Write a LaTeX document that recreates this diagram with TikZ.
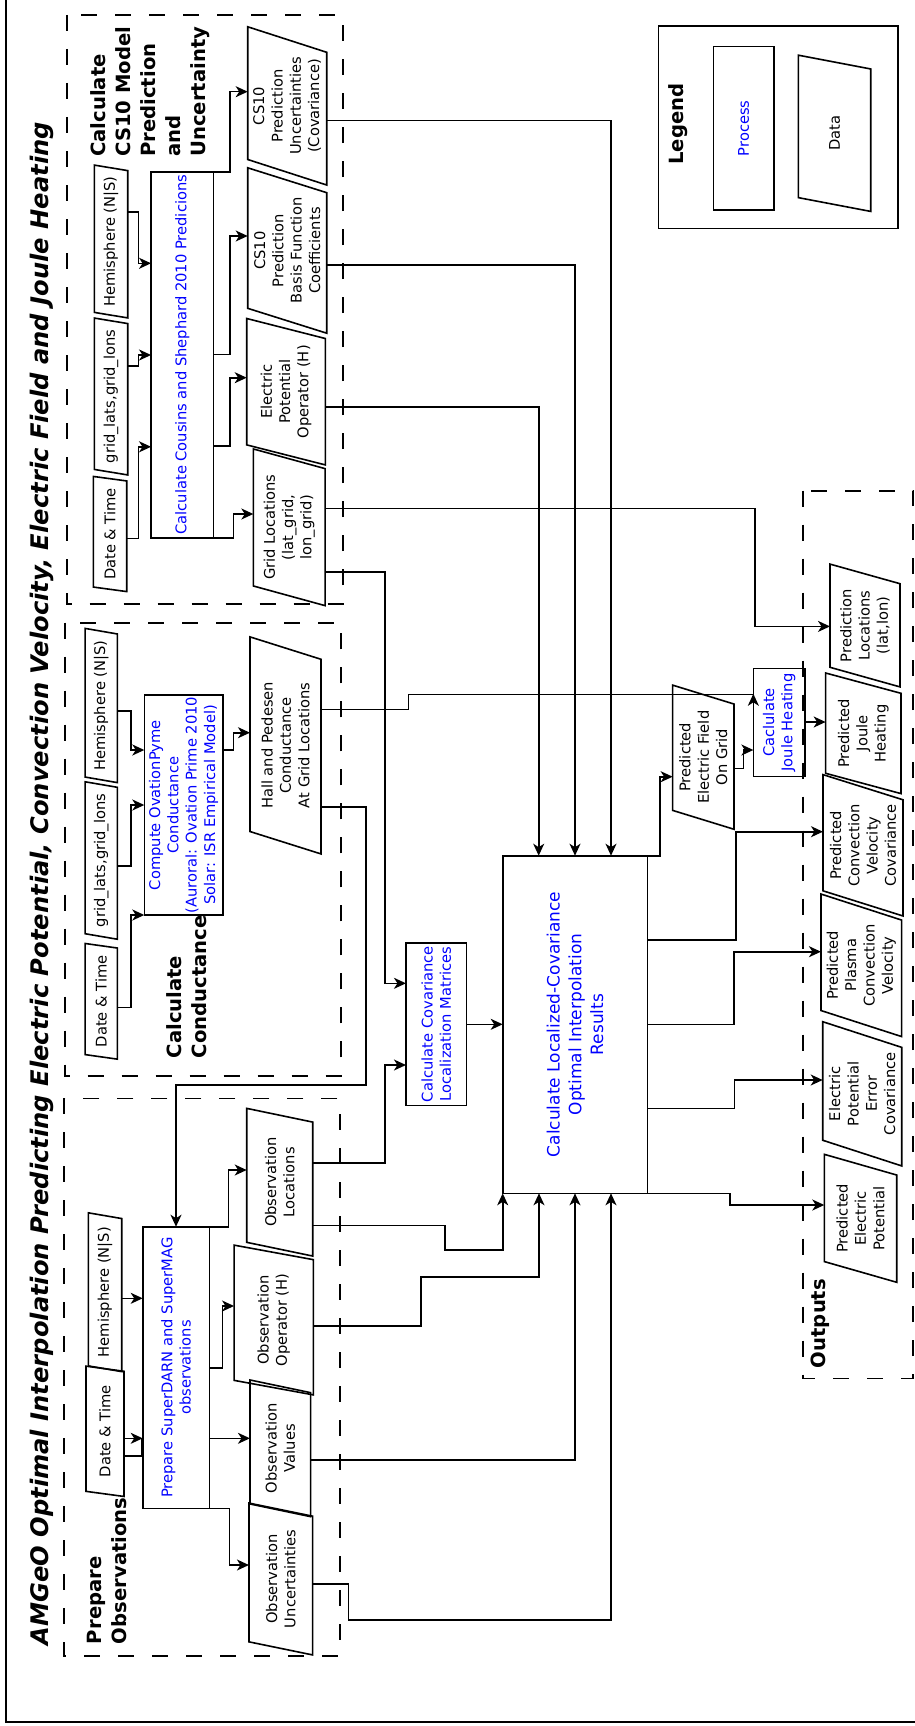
\documentclass[tikz,border=0pt]{standalone}
\usepackage{fontspec}
\setmainfont{DejaVu Sans}[ItalicFont={DejaVu Sans Oblique},BoldFont={DejaVu Sans Bold},BoldItalicFont={DejaVu Sans Bold Oblique}]
\usetikzlibrary{arrows.meta,shapes.geometric}
\begin{document}
\begin{tikzpicture}[x=1pt, y=-1pt,
  every node/.style={inner sep=0pt, outer sep=0pt},
  lbl/.style={rotate=90, align=center, font=\fontsize{14.7}{18.3}\selectfont},
  proc/.style={lbl, draw, line width=1.6pt, rectangle, text=blue},
  data/.style={lbl, draw, line width=1.6pt, trapezium, trapezium left angle=71, trapezium right angle=109, trapezium stretches=true},
  group/.style={draw, line width=1.6pt, dash pattern=on 16pt off 18pt},
  grouptitle/.style={rotate=90, align=left, anchor=west, font=\bfseries\fontsize{19.6}{25}\selectfont},
  link/.style={line width=1.6pt},
  arr/.style={link, -{Stealth[length=12pt, width=11pt, inset=3.5pt]}}]
\useasboundingbox (0,0) rectangle (915,1726);
\clip (0,0) rectangle (915,1726);
% frames
\draw[link] (6,-20) rectangle (935,1722);
\draw[group] (66.7,15) rectangle (342.7,604);
\draw[group] (65,622.7) rectangle (341,1076);
\draw[group] (64,1098.3) rectangle (340,1656);
\draw[group] (802.7,490.7) rectangle (913,1378.3);
% titles
\node[rotate=90, anchor=east, font=\bfseries\itshape\fontsize{24.2}{28}\selectfont] (title) at (41.7,122) {AMGeO Optimal Interpolation Predicting Electric Potential, Convection Velocity, Electric Field and Joule Heating};
\node[grouptitle] (cs10title) at (150,156.7) {Calculate\\CS10 Model\\Prediction\\and\\Uncertainty};
\node[grouptitle] (condtitle) at (186.7,1058.3) {Calculate\\Conductance};
\node[grouptitle] (obstitle) at (106.7,1644) {Prepare\\Observations};
\node[grouptitle] (outtitle) at (820,1368) {Outputs};
% legend
\draw[link] (658.3,26) rectangle (897.7,228.3);
\node[rotate=90, font=\bfseries\fontsize{19.6}{25}\selectfont] (legtitle) at (678.3,124) {Legend};
\node[proc, minimum width=163.3, minimum height=60.7] (legproc) at (743.7,128.3) {Process};
\node[data, minimum width=156.7, minimum height=72.4] (legdata) at (834.5,133.3) {Data};
% CS10 model
\node[data, minimum width=153, minimum height=33.4] (cs10hemi) at (111,241.5) {Hemisphere (N|S)};
\node[data, minimum width=157, minimum height=33.4] (cs10grid) at (111,396.5) {grid\_lats,grid\_lons};
\node[data, minimum width=115.5, minimum height=33.4] (cs10date) at (110,534) {Date \& Time};
\node[proc, minimum width=366, minimum height=62.3] (cs10proc) at (182.2,354.7) {Calculate Cousins and Shephard 2010 Predicions};
\node[data, minimum width=158.3, minimum height=79] (cs10unc) at (287.2,105.9) {CS10\\Prediction\\Uncertainties\\(Covariance)};
\node[data, minimum width=165.6, minimum height=79] (cs10coef) at (287.2,250.5) {CS10\\Prediction\\Basis Function\\Coefficients};
\node[data, minimum width=146.7, minimum height=78.6] (epot) at (286,391.7) {Electric\\Potential\\Operator (H)};
\node[data, minimum width=157, minimum height=71.7] (gridloc) at (289.2,527.3) {Grid Locations\\(lat\_grid,\\lon\_grid)};
% conductance
\node[data, minimum width=154.4, minimum height=32.3] (condhemi) at (101.2,705.5) {Hemisphere (N|S)};
\node[data, minimum width=157.6, minimum height=32.3] (condgrid) at (101.2,860.5) {grid\_lats,grid\_lons};
\node[data, minimum width=116, minimum height=32.3] (conddate) at (101.2,1001.3) {Date \& Time};
\node[proc, minimum width=220, minimum height=78.4] (condproc) at (183.5,805) {Compute OvationPyme\\Conductance\\(Auroral: Ovation Prime 2010\\Solar: ISR Empirical Model)};
\node[data, minimum width=217.3, minimum height=71] (hallped) at (285.5,745.4) {Hall and Pedesen\\Conductance\\At Grid Locations};
% interpolation
\node[proc, minimum width=162.8, minimum height=60.7] (covloc) at (436.3,1024.1) {Calculate Covariance\\Localization Matrices};
\node[proc, minimum width=337.6, minimum height=144.6, font=\fontsize{17}{21.7}\selectfont] (optint) at (575,1024.5) {Calculate Localized-Covariance\\Optimal Interpolation\\Results};
\node[data, minimum width=144.3, minimum height=61.3] (efield) at (703.3,757.2) {Predicted\\Electric Field\\On Grid};
\node[proc, minimum width=107.8, minimum height=51.7] (joule) at (779.2,722.5) {Caclulate\\Joule Heating};
% outputs
\node[data, minimum width=123, minimum height=70] (outloc) at (865,625.5) {Prediction\\Locations\\(lat,lon)};
\node[data, minimum width=120.6, minimum height=75.3] (outjoule) at (863.3,733.3) {Predicted\\Joule\\Heating};
\node[data, minimum width=141.4, minimum height=80] (outvcov) at (863,845.3) {Predicted\\Convection\\Velocity\\Covariance};
\node[data, minimum width=142.7, minimum height=80.7] (outvel) at (861.3,965.3) {Predicted\\Plasma\\Convection\\Velocity};
\node[data, minimum width=144.3, minimum height=79] (outpcov) at (862.2,1093.8) {Electric\\Potential\\Error\\Covariance};
\node[data, minimum width=128, minimum height=72.4] (outpot) at (860.5,1218.3) {Predicted\\Electric\\Potential};
% observations
\node[data, minimum width=159, minimum height=33.4] (obshemi) at (105,1292.2) {Hemisphere (N|S)};
\node[data, minimum width=130.7, minimum height=38] (obsdate) at (105,1431.3) {Date \& Time};
\node[proc, minimum width=281.6, minimum height=66.6] (obsproc) at (176,1367.5) {Prepare SuperDARN and SuperMAG\\observations};
\node[data, minimum width=147.7, minimum height=66] (obsloc) at (279.7,1182.2) {Observation\\Locations};
\node[data, minimum width=150, minimum height=79.3] (obsop) at (273.7,1320) {Observation\\Operator (H)};
\node[data, minimum width=136.7, minimum height=60.7] (obsval) at (280.3,1448.3) {Observation\\Values};
\node[data, minimum width=152, minimum height=63.7] (obsunc) at (280.8,1579) {Observation\\Uncertainties};
% CS10 links
\draw[arr] (cs10hemi.south |- 0,211.7) -| (138.3,263.3) -- (cs10proc.north |- 0,263.3);
\draw[arr] (cs10grid.south |- 0,366) -| (138.3,355) -- (cs10proc.north |- 0,355);
\draw[arr] (cs10date.south |- 0,538.5) -| (138.3,446.8) -- (cs10proc.north |- 0,446.8);
\draw[arr] (cs10proc.south east) -| (230,91.7) -- (cs10unc.north |- 0,91.7);
\draw[arr] (cs10proc.south |- 0,354.3) -| (230,236) -- (cs10coef.north |- 0,236);
\draw[arr] (cs10proc.south |- 0,445.7) -| (230,377.7) -- (epot.north |- 0,377.7);
\draw[arr] (cs10proc.south west) -| (233.3,514) -- (gridloc.north |- 0,514);
\draw[arr] (cs10unc.south |- 0,120.7) -| (optint.east -| 611,0);
\draw[arr] (cs10coef.south |- 0,265) -| (optint.east -| 575,0);
\draw[arr] (epot.south |- 0,406.7) -| (optint.east -| 538.7,0);
\draw[arr] (gridloc.south |- 0,508.3) -| (755,626.4) -- (outloc.north |- 0,626.4);
\draw[arr] (gridloc.south |- 0,571.7) -| (385,983.3) -- (covloc.north |- 0,983.3);
% conductance links
\draw[arr] (condhemi.south |- 0,711) -| (130.7,750) -- (condproc.north |- 0,750);
\draw[arr] (condgrid.south |- 0,866) -| (130.7,805) -- (condproc.north |- 0,805);
\draw[arr] (conddate.south |- 0,1007.3) -| (130.7,915) -- (condproc.north west);
\draw[arr] (condproc.south |- 0,750) -| (233.3,732.7) -- (hallped.north |- 0,732.7);
\draw[arr] (hallped.south |- 0,709.3) -| (408.3,694.3) -- (joule.north |- 0,694.3) -- ++(0,-0.5);
\draw[arr] (hallped.south |- 0,806.7) -| (366,1085) -| (obsproc.east);
% interpolation links
\draw[arr] (obsloc.south |- 0,1162.7) -| (385,1065) -- (covloc.north |- 0,1065);
\draw[arr] (covloc.south |- 0,1024.3) -- (optint.north |- 0,1024.3);
\draw[arr] (optint.south east) -| (660,776.7) -- (efield.north |- 0,776.7);
\draw[arr] (efield.south |- 0,768.3) -| (743.3,750) -- (joule.north |- 0,750);
\draw[arr] (joule.south |- 0,722) -- (outjoule.north |- 0,722);
\draw[arr] (optint.south |- 0,940) -| (735.7,831.7) -- (outvcov.north |- 0,831.7);
\draw[arr] (optint.south |- 0,1024.3) -| (734,951.7) -- (outvel.north |- 0,951.7);
\draw[arr] (optint.south |- 0,1108.3) -| (734.3,1080) -- (outpcov.north |- 0,1080);
\draw[arr] (optint.south west) -| (730,1205) -- (outpot.north |- 0,1205);
% observation links
\draw[arr] (obshemi.south |- 0,1298.3) -- (obsproc.north |- 0,1298.3);
\draw[link] (obsdate.south |- 0,1456) -| (141.7,1438.3);
\draw[arr] (obsdate.south |- 0,1438.3) -- (obsproc.north |- 0,1438.3);
\draw[arr] (obsproc.south east) -| (228.3,1170) -- (obsloc.north |- 0,1170);
\draw[arr] (obsproc.south |- 0,1367.7) -| (222.3,1306) -- (obsop.north |- 0,1306);
\draw[arr] (obsproc.south |- 0,1438.3) -- (obsval.north |- 0,1438.3);
\draw[arr] (obsproc.south west) -| (229.3,1565) -- (obsunc.north |- 0,1565);
\draw[arr] (obsloc.south |- 0,1225.3) -| (445,1250) -| (optint.north west);
\draw[arr] (obsop.south |- 0,1326) -| (421,1276.7) -| (optint.west -| 539,0);
\draw[arr] (obsval.south |- 0,1460) -| (optint.west -| 575,0);
\draw[arr] (obsunc.south |- 0,1584) -| (348.3,1620) -| (optint.west -| 611,0);
\end{tikzpicture}
\end{document}
